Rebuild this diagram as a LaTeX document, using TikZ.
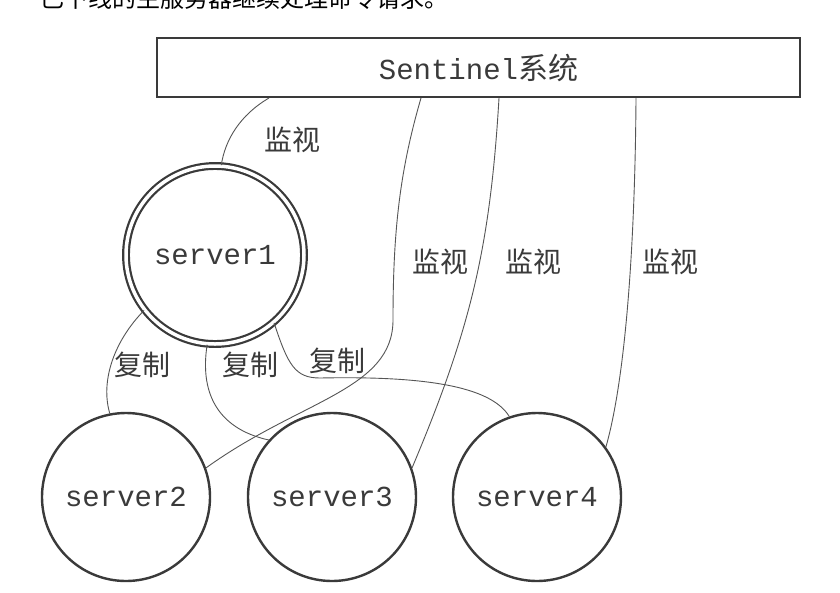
\documentclass[tikz,border=0pt]{standalone}
\usepackage{fontspec}
\setmonofont{Liberation Mono}
\newfontfamily\cjk{Noto Sans CJK SC}
\definecolor{ink}{HTML}{3A3A3A}
\definecolor{wire}{HTML}{555555}
\begin{document}
\begin{tikzpicture}[x=1pt,y=-1pt,
  srv/.style={circle,draw=ink,line width=2.4pt,minimum size=168pt,inner sep=0pt,
    font=\ttfamily\fontsize{29}{29}\selectfont,text=ink},
  lab/.style={font=\cjk\fontsize{28}{28}\selectfont,text=ink,inner sep=0pt},
  wirel/.style={draw=wire,line width=0.9pt}]
\useasboundingbox (0,0) rectangle (840,592);
\clip (0,0) rectangle (840,592);
\fill[white] (0,0) rectangle (840,592);
% clipped caption line at top
\node[anchor=base west,inner sep=0pt,font=\cjk\fontsize{24}{24}\selectfont,text=black] (cap) at (40,7) {已下线的主服务器继续处理命令请求。};
% Sentinel box
\node[draw=ink,line width=2pt,minimum width=643pt,minimum height=59pt,inner sep=0pt,text=ink] (sent) at (478.5,67.5)
  {{\ttfamily\fontsize{29}{29}\selectfont Sentinel}{\cjk\fontsize{30}{30}\selectfont 系统}};
% servers
\node[srv,minimum size=178pt,double=white,double distance=3.5pt,line width=2.2pt] (s1) at (215,255) {server1};
\node[srv] (s2) at (126,497) {server2};
\node[srv] (s3) at (332,497) {server3};
\node[srv] (s4) at (537,497) {server4};
% start points on Sentinel box
\coordinate (p1) at ([xshift=113]sent.south west);
\coordinate (p2) at ([xshift=265]sent.south west);
\coordinate (p3) at ([xshift=343]sent.south west);
\coordinate (p4) at ([xshift=480]sent.south west);
% monitor lines
\draw[wirel] (p1) .. controls (240,115) and (225,140) .. (s1.86);
\draw[wirel] (p2) .. controls (400,170) and (393,230) .. (393,320)
  .. controls (393,390) and (300,400) .. (s2.20);
\draw[wirel] (p3) .. controls (490,250) and (470,330) .. (s3.20);
\draw[wirel] (p4) .. controls (635,250) and (625,380) .. (s4.36);
% replication lines
\draw[wirel] (s1.218) .. controls (115,340) and (100,380) .. (s2.101);
\draw[wirel] (s1.265) .. controls (200,390) and (215,428) .. (s3.138);
\draw[wirel] (s1.-49) .. controls (288,365) and (295,378) .. (320,378)
  .. controls (420,376) and (490,385) .. (s4.109);
% labels
\node[lab] (m1) at (292,140) {监视};
\node[lab] (m2) at (440,262) {监视};
\node[lab] (m3) at (533,262) {监视};
\node[lab] (m4) at (670,262) {监视};
\node[lab] (r1) at (142,365) {复制};
\node[lab] (r2) at (250,365) {复制};
\node[lab] (r3) at (337,361) {复制};
\end{tikzpicture}
\end{document}
